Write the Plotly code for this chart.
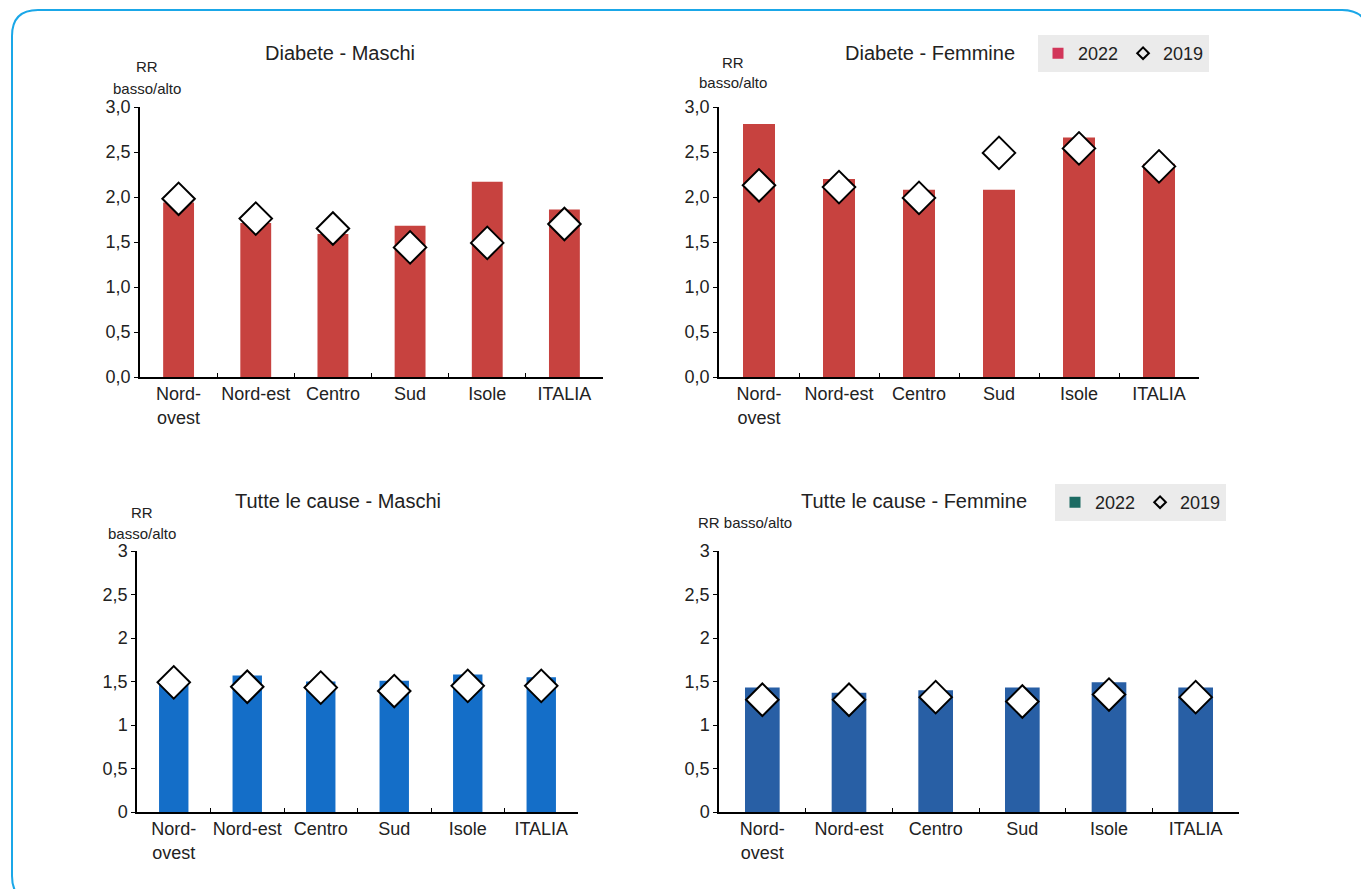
import plotly.graph_objects as go

# Ripartizioni geografiche
regions = ["Nord-ovest", "Nord-est", "Centro", "Sud", "Isole", "ITALIA"]
region_labels = ["Nord-<br>ovest", "Nord-est", "Centro", "Sud", "Isole", "ITALIA"]

# Rischio relativo basso/alto titolo di studio
diab_m_2022 = [1.94, 1.71, 1.59, 1.68, 2.17, 1.86]
diab_m_2019 = [1.98, 1.76, 1.65, 1.44, 1.49, 1.70]
diab_f_2022 = [2.81, 2.20, 2.08, 2.08, 2.66, 2.37]
diab_f_2019 = [2.13, 2.11, 1.99, 2.49, 2.54, 2.34]
tutte_m_2022 = [1.52, 1.57, 1.50, 1.51, 1.58, 1.55]
tutte_m_2019 = [1.49, 1.44, 1.43, 1.39, 1.45, 1.45]
tutte_f_2022 = [1.43, 1.37, 1.40, 1.43, 1.49, 1.43]
tutte_f_2019 = [1.29, 1.29, 1.32, 1.27, 1.35, 1.32]

# Etichette asse y
yticks = [0, 0.5, 1, 1.5, 2, 2.5, 3]
yticks_diab = ["0,0", "0,5", "1,0", "1,5", "2,0", "2,5", "3,0"]
yticks_tutte = ["0", "0,5", "1", "1,5", "2", "2,5", "3"]

W, H = 1361, 889
FONT = "Liberation Sans, Arial, sans-serif"
TXT = "#222222"

RED = "#C7423F"
BLUE_M = "#146EC8"
BLUE_F = "#285FA5"


def px_x(x):
    return x / W


def px_y(y):
    return 1 - y / H


panels = [
    # (x0, x1, y_top, y_bottom, barre 2022, rombi 2019, colore, etichette y)
    (140, 603, 107, 377, diab_m_2022, diab_m_2019, RED, yticks_diab),
    (719, 1199, 107, 377, diab_f_2022, diab_f_2019, RED, yticks_diab),
    (137, 578, 551, 812, tutte_m_2022, tutte_m_2019, BLUE_M, yticks_tutte),
    (719, 1239, 551, 812, tutte_f_2022, tutte_f_2019, BLUE_F, yticks_tutte),
]

fig = go.Figure()
layout = {}

for i, (x0, x1, yt, yb, bars, dia, col, ytxt) in enumerate(panels, start=1):
    xa = "x" if i == 1 else f"x{i}"
    ya = "y" if i == 1 else f"y{i}"
    fig.add_trace(go.Bar(
        x=regions, y=bars, width=0.4, marker=dict(color=col, line=dict(width=0)),
        xaxis=xa, yaxis=ya, showlegend=False, hoverinfo="x+y",
    ))
    fig.add_trace(go.Scatter(
        x=regions, y=dia, mode="markers", xaxis=xa, yaxis=ya, showlegend=False,
        marker=dict(symbol="diamond", size=25, color="white",
                    line=dict(color="black", width=2)),
    ))
    key = "" if i == 1 else str(i)
    layout[f"xaxis{key}"] = dict(
        domain=[px_x(x0), px_x(x1)], anchor=ya, type="category",
        range=[-0.5, 5.5], tickmode="array", tickvals=regions, ticktext=region_labels,
        tickson="boundaries", ticks="inside", ticklen=4, tickcolor="black",
        tickangle=0, automargin=False,
        showline=True, linecolor="black", linewidth=1.5, showgrid=False,
        tickfont=dict(family=FONT, size=18, color=TXT), fixedrange=True,
    )
    layout[f"yaxis{key}"] = dict(
        domain=[px_y(yb), px_y(yt)], anchor=xa, range=[0, 3],
        tickmode="array", tickvals=yticks, ticktext=ytxt,
        ticks="outside", ticklen=4, tickcolor="black", automargin=False,
        showline=True, linecolor="black", linewidth=1.5, showgrid=False,
        zeroline=False, tickfont=dict(family=FONT, size=18, color=TXT),
        fixedrange=True,
    )

# Voci di legenda
legend_items = [
    ("2022", "square", "#D2365A", "legend"),
    ("2019", "diamond-open", "black", "legend"),
    ("2022", "square", "#1C6B63", "legend2"),
    ("2019", "diamond-open", "black", "legend2"),
]
for name, sym, col, leg in legend_items:
    fig.add_trace(go.Scatter(
        x=[None], y=[None], mode="markers", name=name, legend=leg,
        marker=dict(symbol=sym, size=9, color=col, line=dict(color=col, width=2)),
        xaxis="x2" if leg == "legend" else "x4",
        yaxis="y2" if leg == "legend" else "y4",
    ))

legend_style = dict(
    orientation="h", bgcolor="#ebebeb", borderwidth=0,
    font=dict(family=FONT, size=18, color=TXT),
    xanchor="left", yanchor="top", itemwidth=30, tracegroupgap=0,
)

titles = [
    ("Diabete - Maschi", 340, 53),
    ("Diabete - Femmine", 930, 53),
    ("Tutte le cause - Maschi", 338, 501),
    ("Tutte le cause - Femmine", 914, 501),
]
annotations = []
for text, cx, cy in titles:
    annotations.append(dict(
        text=text, x=px_x(cx), y=px_y(cy), xref="paper", yref="paper",
        xanchor="center", yanchor="middle", showarrow=False,
        font=dict(family=FONT, size=20, color=TXT),
    ))

ylabels = [
    ("RR", 147, 67), ("basso/alto", 147, 88),
    ("RR", 733, 62), ("basso/alto", 733, 83),
    ("RR", 142, 512), ("basso/alto", 142, 533),
    ("RR basso/alto", 745, 522),
]
for text, cx, cy in ylabels:
    annotations.append(dict(
        text=text, x=px_x(cx), y=px_y(cy), xref="paper", yref="paper",
        xanchor="center", yanchor="middle", showarrow=False,
        font=dict(family=FONT, size=15, color=TXT),
    ))


# Cornice arrotondata (coordinate in pixel convertite in paper)
def frame_path(x0, y0, x1, y1, r):
    pts = [
        ("M", x0, y0 + r), ("Q", x0, y0), ("", x0 + r, y0),
        ("L", x1 - r, y0), ("Q", x1, y0), ("", x1, y0 + r),
        ("L", x1, y1 - r), ("Q", x1, y1), ("", x1 - r, y1),
        ("L", x0 + r, y1), ("Q", x0, y1), ("", x0, y1 - r),
    ]
    parts = []
    for cmd, x, y in pts:
        parts.append(f"{cmd}{px_x(x):.5f},{px_y(y):.5f}")
    return " ".join(parts) + " Z"


fig.update_layout(
    **layout,
    width=W, height=H, autosize=False,
    margin=dict(l=0, r=0, t=0, b=0, autoexpand=False),
    paper_bgcolor="white", plot_bgcolor="white",
    barmode="overlay", showlegend=True,
    legend=dict(**legend_style, x=px_x(1038), y=px_y(35)),
    legend2=dict(**legend_style, x=px_x(1055), y=px_y(484)),
    annotations=annotations,
    shapes=[dict(type="path", path=frame_path(12, 10, 1368, 902, 26),
                 xref="paper", yref="paper",
                 line=dict(color="#1AA7E8", width=2), layer="below")],
    font=dict(family=FONT, color=TXT),
)

fig.write_html("out.html", config={"displayModeBar": False})
